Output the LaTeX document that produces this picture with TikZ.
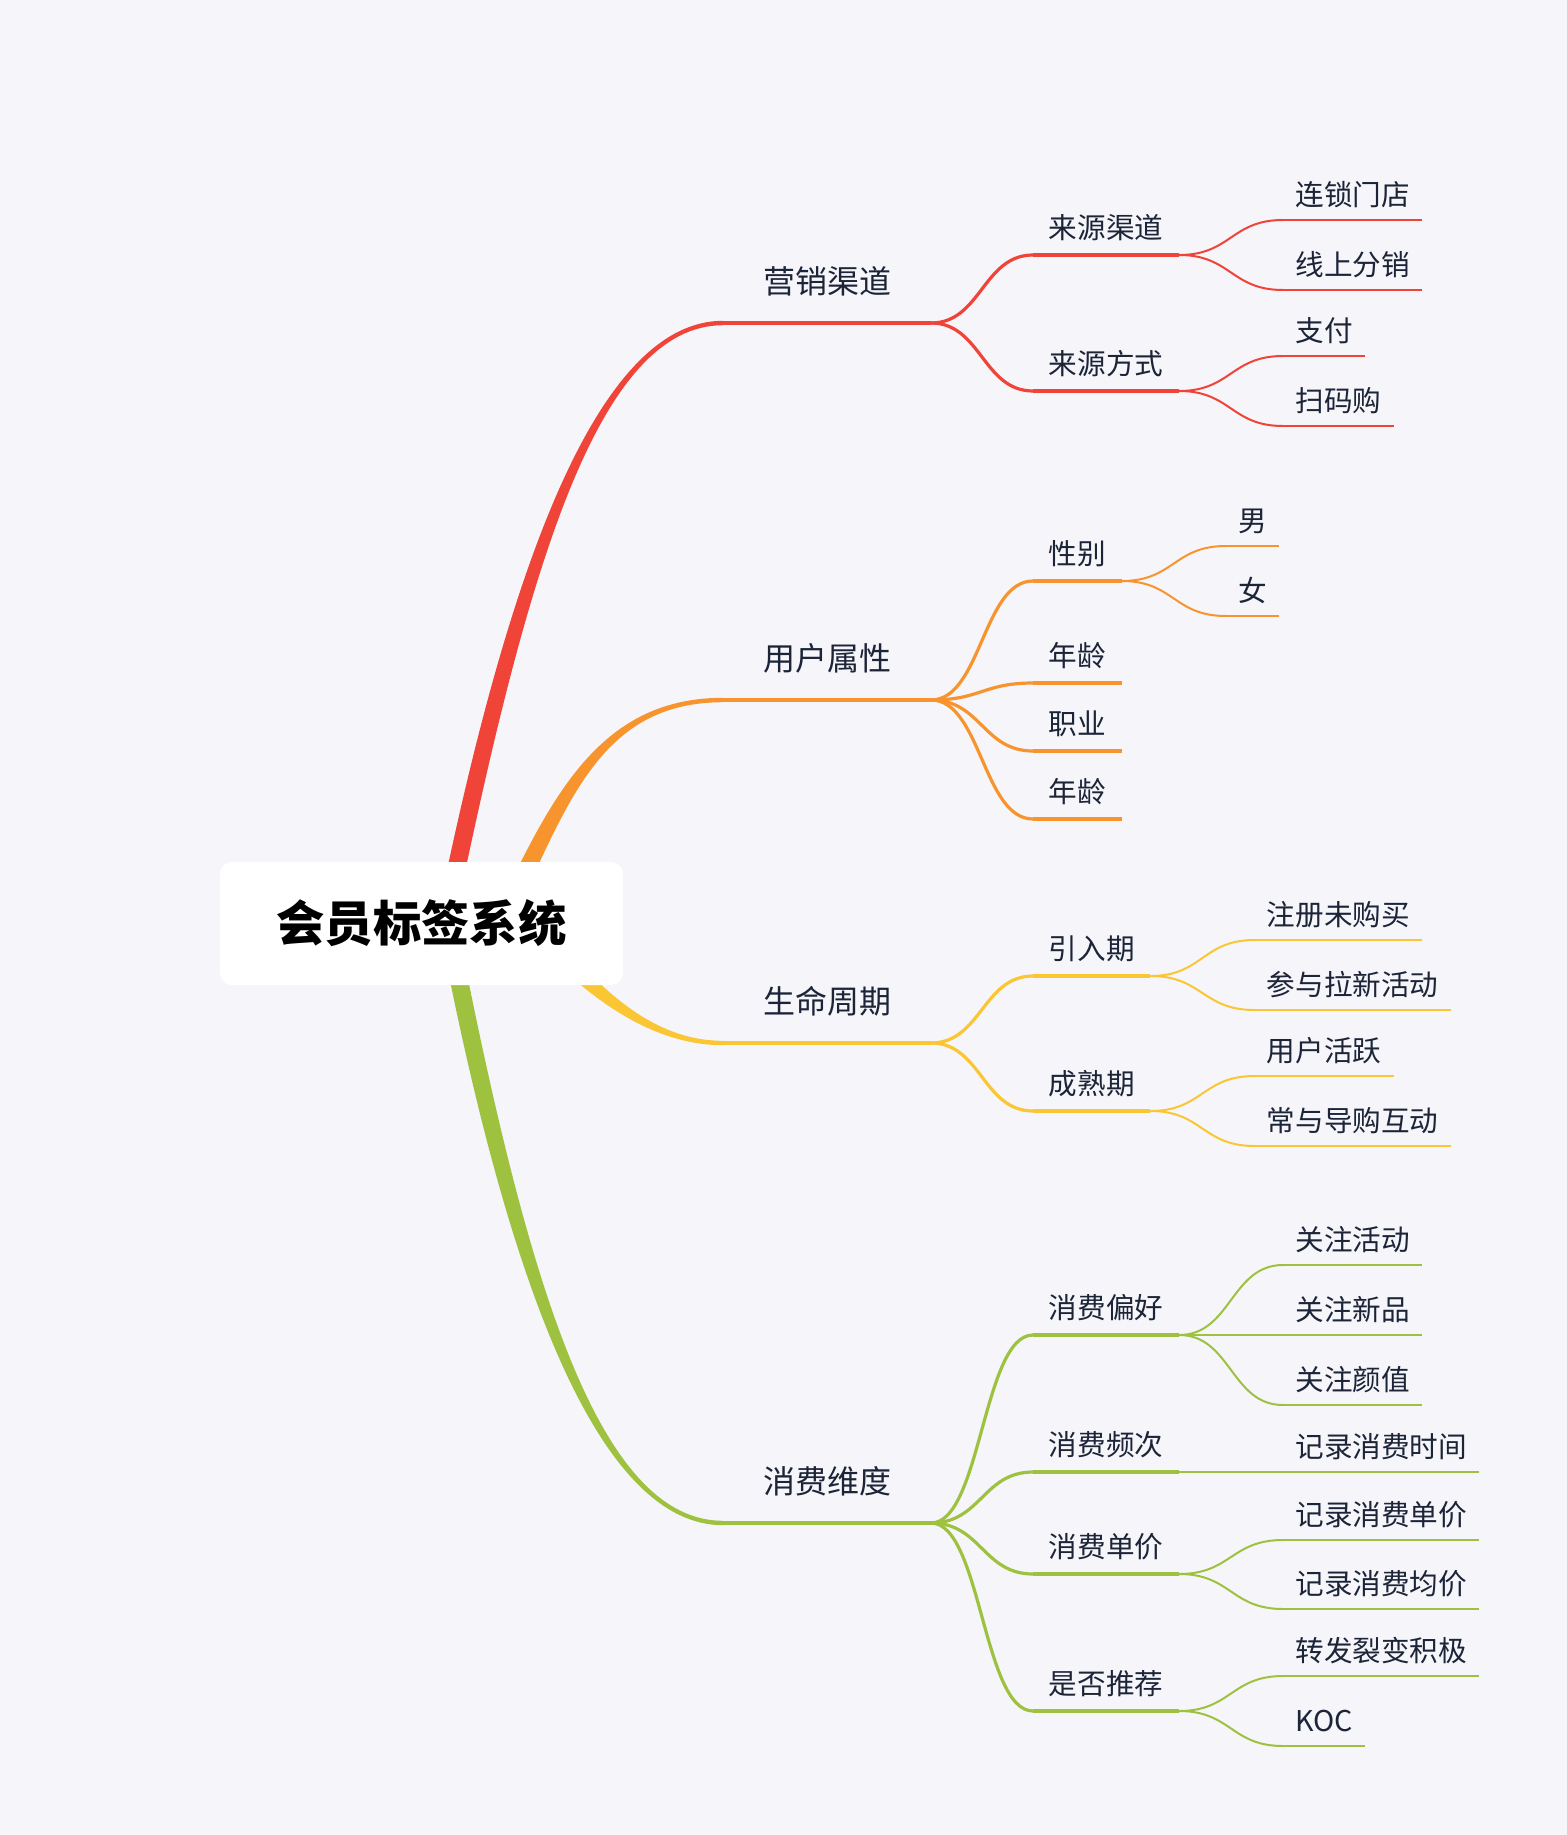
\documentclass[tikz,border=0pt]{standalone}
\usepackage{fontspec}
\setmainfont{Noto Sans CJK SC}
\usetikzlibrary{positioning, calc, backgrounds}

\definecolor{bgcol}{RGB}{245,245,250}
\definecolor{ink}{RGB}{28,36,56}
\definecolor{cred}{RGB}{240,68,56}
\definecolor{corange}{RGB}{247,148,45}
\definecolor{cyellow}{RGB}{251,198,52}
\definecolor{cgreen}{RGB}{158,194,64}

% tapered branch: colour, start, control 1, control 2, end
\newcommand{\mainbranch}[5]{%
  \fill[#1] ($(#2)!4.5pt!90:(#3)$) .. controls ($(#3)!4.5pt!-90:(#2)$) and ($(#4)!1.1pt!90:(#5)$) .. ($(#5)!1.1pt!-90:(#4)$)
    -- ($(#5)!1.1pt!90:(#4)$) .. controls ($(#4)!1.1pt!-90:(#5)$) and ($(#3)!4.5pt!90:(#2)$) .. ($(#2)!4.5pt!-90:(#3)$) -- cycle;}

\begin{document}
\begin{tikzpicture}[
  x=0.5pt, y=-0.5pt,
  rootbox/.style={fill=white, rounded corners=6pt, minimum width=201.5pt, minimum height=61.5pt, inner sep=0pt, font=\fontsize{24.2}{29}\selectfont\bfseries, text=black},
  mainlbl/.style={anchor=south west, outer sep=0pt, inner xsep=20pt, inner ysep=14.9pt, text height=12pt, text depth=0pt, font=\fontsize{16}{19}\selectfont, text=ink},
  sublbl/.style={anchor=south west, outer sep=0pt, inner xsep=7.9pt, inner ysep=8.1pt, text height=11pt, text depth=0pt, font=\fontsize{14.3}{17}\selectfont, text=ink},
  leaflbl/.style={sublbl, inner xsep=6.2pt, inner ysep=7.1pt},
  mainline/.style={line width=2.2pt},
  subline/.style={line width=2pt},
  leafline/.style={line width=1.4pt},
  fanline/.style={line width=1.6pt},
  twigline/.style={line width=1pt}
]

\node[rootbox] (root) at (421.5,923.5) {会员标签系统};

\node[mainlbl] (m1) at (723,323) {营销渠道};
\node[right=51pt of m1.south east, sublbl, yshift=34pt] (s11) {来源渠道};
\node[right=51pt of m1.south east, sublbl, yshift=-34pt] (s12) {来源方式};
\node[right=52pt of s11.south east, leaflbl, yshift=17.5pt] (l111) {连锁门店};
\node[right=52pt of s11.south east, leaflbl, yshift=-17.5pt] (l112) {线上分销};
\node[right=52pt of s12.south east, leaflbl, yshift=17.5pt] (l121) {支付};
\node[right=52pt of s12.south east, leaflbl, yshift=-17.5pt] (l122) {扫码购};

\node[mainlbl] (m2) at (723,700) {用户属性};
\node[right=51pt of m2.south east, sublbl, yshift=59.5pt] (s21) {性别};
\node[right=51pt of m2.south east, sublbl, yshift=8.5pt] (s22) {年龄};
\node[right=51pt of m2.south east, sublbl, yshift=-25.5pt] (s23) {职业};
\node[right=51pt of m2.south east, sublbl, yshift=-59.5pt] (s24) {年龄};
\node[right=52pt of s21.south east, leaflbl, yshift=17.5pt] (l211) {男};
\node[right=52pt of s21.south east, leaflbl, yshift=-17.5pt] (l212) {女};

\node[mainlbl] (m3) at (723,1043) {生命周期};
\node[right=51pt of m3.south east, sublbl, yshift=33.5pt] (s31) {引入期};
\node[right=51pt of m3.south east, sublbl, yshift=-34pt] (s32) {成熟期};
\node[right=52pt of s31.south east, leaflbl, yshift=18pt] (l311) {注册未购买};
\node[right=52pt of s31.south east, leaflbl, yshift=-17pt] (l312) {参与拉新活动};
\node[right=52pt of s32.south east, leaflbl, yshift=17.5pt] (l321) {用户活跃};
\node[right=52pt of s32.south east, leaflbl, yshift=-17.5pt] (l322) {常与导购互动};

\node[mainlbl] (m4) at (723,1523) {消费维度};
\node[right=51pt of m4.south east, sublbl, yshift=94pt] (s41) {消费偏好};
\node[right=51pt of m4.south east, sublbl, yshift=25.5pt] (s42) {消费频次};
\node[right=51pt of m4.south east, sublbl, yshift=-25.5pt] (s43) {消费单价};
\node[right=51pt of m4.south east, sublbl, yshift=-94pt] (s44) {是否推荐};
\node[right=52pt of s41.south east, leaflbl, yshift=35pt] (l411) {关注活动};
\node[right=52pt of s41.south east, leaflbl] (l412) {关注新品};
\node[right=52pt of s41.south east, leaflbl, yshift=-35pt] (l413) {关注颜值};
\node[right=52pt of s42.south east, leaflbl] (l421) {记录消费时间};
\node[right=52pt of s43.south east, leaflbl, yshift=17pt] (l431) {记录消费单价};
\node[right=52pt of s43.south east, leaflbl, yshift=-17.5pt] (l432) {记录消费均价};
\node[right=52pt of s44.south east, leaflbl, yshift=17.5pt] (l441) {转发裂变积极};
\node[right=52pt of s44.south east, leaflbl, yshift=-17.5pt] (l442) {KOC};

\draw[mainline, cred] (m1.south west) -- (m1.south east);
\foreach \s in {s11,s12} {
  \draw[fanline, cred] (m1.south east) .. controls +(25pt,0) and +(-25pt,0) .. (\s.south west);
  \draw[subline, cred] (\s.south west) -- (\s.south east);
}
\foreach \s/\l in {s11/l111,s11/l112,s12/l121,s12/l122} {
  \draw[twigline, cred] (\s.south east) .. controls +(26pt,0) and +(-26pt,0) .. (\l.south west);
  \draw[leafline, cred] (\l.south west) -- (\l.south east);
}

\draw[mainline, corange] (m2.south west) -- (m2.south east);
\foreach \s in {s21,s22,s23,s24} {
  \draw[fanline, corange] (m2.south east) .. controls +(25pt,0) and +(-25pt,0) .. (\s.south west);
  \draw[subline, corange] (\s.south west) -- (\s.south east);
}
\foreach \l in {l211,l212} {
  \draw[twigline, corange] (s21.south east) .. controls +(26pt,0) and +(-26pt,0) .. (\l.south west);
  \draw[leafline, corange] (\l.south west) -- (\l.south east);
}

\draw[mainline, cyellow] (m3.south west) -- (m3.south east);
\foreach \s in {s31,s32} {
  \draw[fanline, cyellow] (m3.south east) .. controls +(25pt,0) and +(-25pt,0) .. (\s.south west);
  \draw[subline, cyellow] (\s.south west) -- (\s.south east);
}
\foreach \s/\l in {s31/l311,s31/l312,s32/l321,s32/l322} {
  \draw[twigline, cyellow] (\s.south east) .. controls +(26pt,0) and +(-26pt,0) .. (\l.south west);
  \draw[leafline, cyellow] (\l.south west) -- (\l.south east);
}

\draw[mainline, cgreen] (m4.south west) -- (m4.south east);
\foreach \s in {s41,s42,s43,s44} {
  \draw[fanline, cgreen] (m4.south east) .. controls +(25pt,0) and +(-25pt,0) .. (\s.south west);
  \draw[subline, cgreen] (\s.south west) -- (\s.south east);
}
\foreach \s/\l in {s41/l411,s41/l412,s41/l413,s42/l421,s43/l431,s43/l432,s44/l441,s44/l442} {
  \draw[twigline, cgreen] (\s.south east) .. controls +(26pt,0) and +(-26pt,0) .. (\l.south west);
  \draw[leafline, cgreen] (\l.south west) -- (\l.south east);
}

\begin{scope}[on background layer]
  \fill[bgcol] (0,0) rectangle (1567,1835);
  \mainbranch{cred}{$(root.center)+(30.5,-33.5)$}{521,560}{600,323}{m1.south west}
  \mainbranch{corange}{$(root.center)+(83.5,-8.5)$}{560,800}{600,700}{m2.south west}
  \mainbranch{cyellow}{$(root.center)+(118.5,11.5)$}{580,975}{640,1043}{m3.south west}
  \mainbranch{cgreen}{$(root.center)+(33.5,36.5)$}{521,1290}{600,1523}{m4.south west}
\end{scope}

\end{tikzpicture}
\end{document}
